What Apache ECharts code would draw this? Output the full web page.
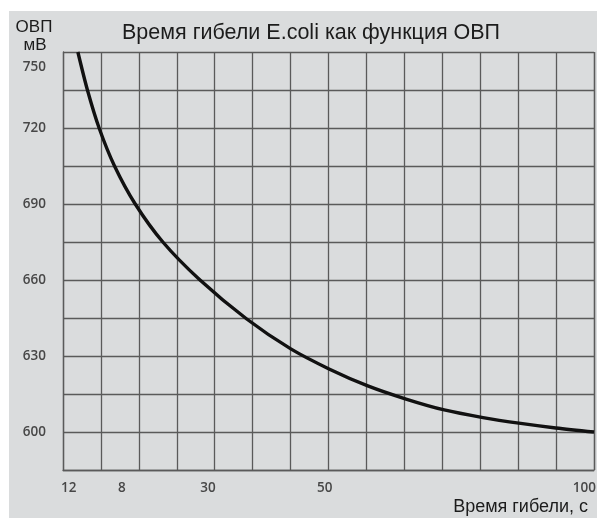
<!DOCTYPE html>
<html>
<head>
<meta charset="utf-8">
<script src="https://cdn.jsdelivr.net/npm/echarts@6/dist/echarts.min.js"></script>
<style>
html,body{margin:0;padding:0;background:#ffffff;}
#chart{width:597px;height:518px;}
</style>
</head>
<body>
<div id="chart"></div>
<script>
// Data
const timeSec = [2.8, 4.6, 6.8, 9.7, 13.6, 18.8, 25.8, 34.6, 42.9, 50.1, 57.4, 64.6, 71.8, 79.1, 86.2, 92.8, 100];
const orpMv   = [750, 735, 720, 705, 690, 675, 660, 644.6, 632.8, 624.9, 618.2, 613.0, 608.7, 605.7, 603.4, 601.6, 600];
const xTickLabels = ['12', '8', '30', '50', '100'];
const xTickPositions = [1.1, 11.1, 27.3, 49.3, 98.2];
const yTickLabels = [600, 630, 660, 690, 720, 750];

const titleText = 'Время гибели E.coli как функция ОВП';
const yName = ['ОВП', 'мВ'];
const xName = 'Время гибели, с';

const chart = echarts.init(document.getElementById('chart'), null, {renderer: 'canvas'});
const gridColor = '#5a5a5a';
const sans = '"Liberation Sans", Arial, sans-serif';
const labelFont = '"Open Sans", "Noto Sans", sans-serif';
const labelColor = '#474747';

const option = {
  animation: false,
  backgroundColor: '#ffffff',
  grid: {left: 63, top: 52, right: 3, bottom: 48, containLabel: false, outerBoundsMode: 'none'},
  graphic: [
    {type: 'rect', z: -10, silent: true, shape: {x: 9, y: 11, width: 588, height: 507}, style: {fill: '#dadcdd'}},
    {type: 'text', x: 122, y: 33, style: {text: titleText, font: '21.5px ' + sans, fill: '#1c1c1c', align: 'left', verticalAlign: 'middle'}},
    {type: 'text', x: 34, y: 27, style: {text: yName[0], font: '17px ' + sans, fill: '#1c1c1c', align: 'center', verticalAlign: 'middle'}},
    {type: 'text', x: 35, y: 45, style: {text: yName[1], font: '17px ' + sans, fill: '#1c1c1c', align: 'center', verticalAlign: 'middle'}},
    {type: 'text', x: 588, y: 507, style: {text: xName, font: '18px ' + sans, fill: '#1c1c1c', align: 'right', verticalAlign: 'middle'}}
  ],
  xAxis: {
    type: 'value', min: 0, max: 100, interval: 100 / 14,
    axisLine: {show: true, lineStyle: {color: gridColor, width: 1.3}},
    axisTick: {show: false},
    splitLine: {show: true, lineStyle: {color: gridColor, width: 1.3}},
    axisLabel: {
      customValues: xTickPositions,
      margin: 11,
      hideOverlap: false,
      color: labelColor, fontSize: 13.5, fontWeight: 600, fontFamily: labelFont,
      formatter: function (v) {
        for (let i = 0; i < xTickPositions.length; i++) {
          if (Math.abs(xTickPositions[i] - v) < 0.01) return xTickLabels[i];
        }
        return '';
      }
    }
  },
  yAxis: {
    type: 'value', min: 585, max: 750, interval: 15,
    axisLine: {show: true, lineStyle: {color: gridColor, width: 1.3}},
    axisTick: {show: false},
    splitLine: {show: true, lineStyle: {color: gridColor, width: 1.3}},
    axisLabel: {
      customValues: yTickLabels,
      margin: 17,
      color: labelColor, fontSize: 13.5, fontWeight: 600, fontFamily: labelFont,
      formatter: function (v) {
        if (v === yTickLabels[yTickLabels.length - 1]) return '{top|' + v + '}';
        return String(v);
      },
      rich: {top: {padding: [30, 0, 0, 0], color: labelColor, fontSize: 13.5, fontWeight: 600, fontFamily: labelFont}}
    }
  },
  series: [{
    type: 'line',
    data: timeSec.map((t, i) => [t, orpMv[i]]),
    smooth: 0.3,
    showSymbol: false,
    clip: true,
    lineStyle: {color: '#111111', width: 3.4}
  }]
};
chart.setOption(option);
</script>
</body>
</html>
